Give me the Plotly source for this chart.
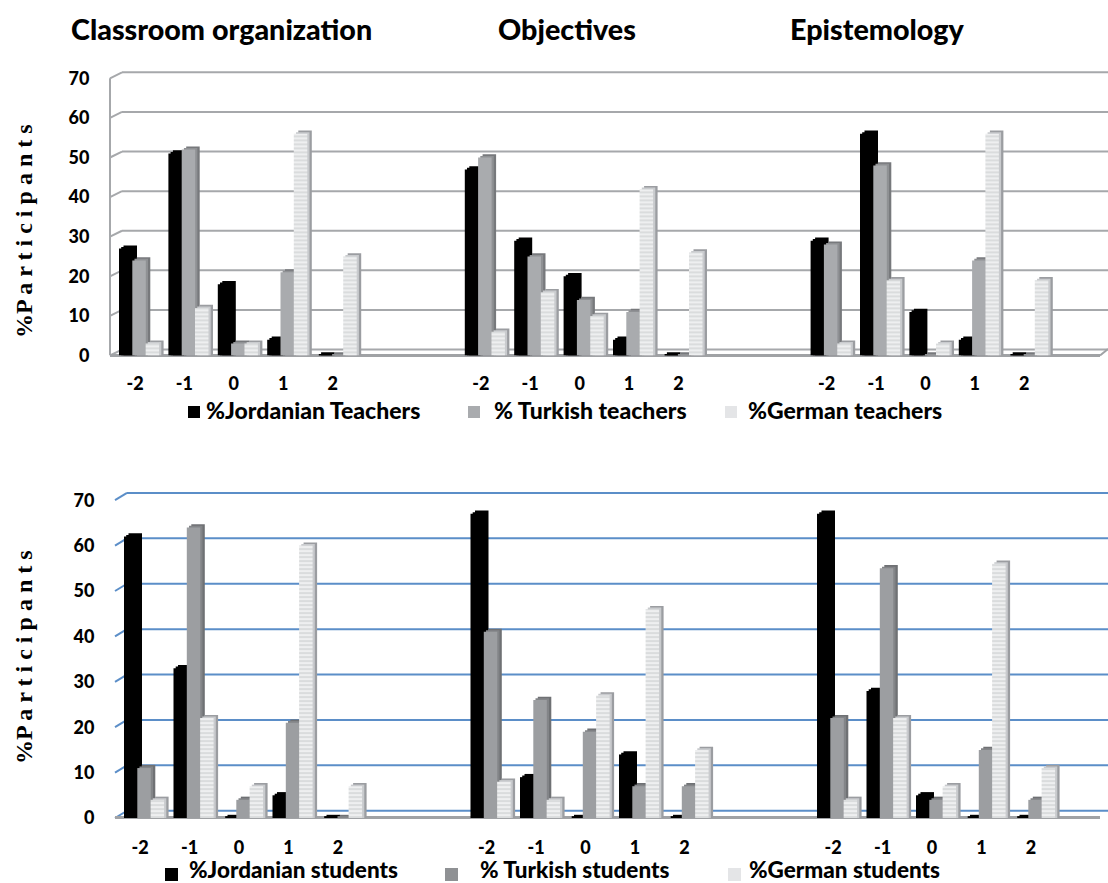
import plotly.graph_objects as go

W, H = 1108, 883
categories = ["-2", "-1", "0", "1", "2"]
group_slots = [0, 7, 14]
y_ticks = [0, 10, 20, 30, 40, 50, 60, 70]

# Teachers: Classroom organization, Objectives, Epistemology
jordan_teachers = [27, 51, 18, 4, 0, 47, 29, 20, 4, 0, 29, 56, 11, 4, 0]
turkish_teachers = [24, 52, 3, 21, 0, 50, 25, 14, 11, 0, 28, 48, 0, 24, 0]
german_teachers = [3, 12, 3, 56, 25, 6, 16, 10, 42, 26, 3, 19, 3, 56, 19]
# Students
jordan_students = [62, 33, 0, 5, 0, 67, 9, 0, 14, 0, 67, 28, 5, 0, 0]
turkish_students = [11, 64, 4, 21, 0, 41, 26, 19, 7, 7, 22, 55, 4, 15, 4]
german_students = [4, 22, 7, 60, 7, 8, 4, 27, 46, 15, 4, 22, 7, 56, 11]

headings = ["Classroom organization", "Objectives", "Epistemology"]
teacher_names = ["%Jordanian Teachers", "% Turkish teachers", "%German teachers"]
student_names = ["%Jordanian students", "% Turkish students", "%German students"]

positions = [s + i for s in group_slots for i in range(len(categories))]
tick_text = categories * len(group_slots)

LATO = "Lato"
HEAVY = 900
fig = go.Figure()


def bar_trace(xa, ya, name, values, offset, width, color, pattern=None):
    marker = dict(color=color, line=dict(width=0))
    if pattern:
        marker["pattern"] = dict(shape="-", bgcolor=pattern[0], fgcolor=pattern[1],
                                 size=4, solidity=0.35)
    fig.add_trace(go.Bar(x=positions, y=values, name=name, offset=offset, width=width,
                         marker=marker, xaxis=xa, yaxis=ya, showlegend=False))


def panel(xa, ya, series, names, side_colors, top_colors, front_colors, patterns, unit, y_per):
    bw = 13.5 / unit
    for k, vals in enumerate(series):
        off = (-16 + 13.3 * k) / unit
        bar_trace(xa, ya, names[k] + " depth", [v + 3.2 / y_per for v in vals],
                  off + 4.5 / unit, bw, side_colors[k])
        bar_trace(xa, ya, names[k] + " top", [v + 1.6 / y_per for v in vals],
                  off + 2.2 / unit, bw, top_colors[k])
        bar_trace(xa, ya, names[k], vals, off, bw, front_colors[k], patterns[k])


def px_x(p):
    return p / W


def px_y(p):
    return 1 - p / H


panel("x", "y", [jordan_teachers, turkish_teachers, german_teachers], teacher_names,
      ["#000000", "#77797c", "#9b9da1"], ["#000000", "#8f9194", "#c9cbce"],
      ["#000000", "#a9abae", "#e9eaec"],
      [None, None, ("#eeeff0", "#b4b6b9")], 49.4, 3.96)
panel("x2", "y2", [jordan_students, turkish_students, german_students], student_names,
      ["#000000", "#6f7174", "#9b9da1"], ["#000000", "#838588", "#c9cbce"],
      ["#000000", "#9c9ea1", "#e9eaec"],
      [None, None, ("#eeeff0", "#b4b6b9")], 49.5, 4.54)


def line(xref, yref, x0, y0, x1, y1, color, width):
    return dict(type="line", xref=xref, yref=yref, x0=x0, y0=y0, x1=x1, y1=y1,
                line=dict(color=color, width=width), layer="below")


shapes = []
# Back-wall gridlines and the slanted wall edges, one per tick value
for t in y_ticks:
    shapes.append(line("paper", "y", px_x(122), t + 1.5, 1, t + 1.5, "#a6a8ab", 2))
    shapes.append(line("paper", "y", px_x(110), t, px_x(122), t + 1.5, "#a6a8ab", 2))
    shapes.append(line("paper", "y2", px_x(127), t + 1.6, 1, t + 1.6, "#5b8ec8", 2))
    shapes.append(line("paper", "y2", px_x(115), t, px_x(127), t + 1.6, "#5b8ec8", 2))
# Front wall edge and floors
shapes.append(line("paper", "y", px_x(110), 0, px_x(110), 70, "#a6a8ab", 2))
shapes.append(line("paper", "paper", px_x(110), px_y(355.5), px_x(1100), px_y(355.5), "#a0a2a5", 3))
shapes.append(line("paper", "paper", px_x(1100), px_y(355.5), px_x(1108), px_y(349), "#a0a2a5", 2))
shapes.append(line("paper", "paper", px_x(115), px_y(817.5), px_x(1100), px_y(817.5), "#a0a2a5", 3))


def swatch(x0, y0, size, color):
    return dict(type="rect", xref="paper", yref="paper", x0=px_x(x0), x1=px_x(x0 + size),
                y0=px_y(y0 + size), y1=px_y(y0), fillcolor=color, line=dict(width=0))


annotations = []


def text(x, y, s, size, family=LATO, anchor="left", angle=0, weight=HEAVY):
    annotations.append(dict(xref="paper", yref="paper", x=px_x(x), y=px_y(y), text=s,
                            showarrow=False, xanchor=anchor, yanchor="middle", textangle=angle,
                            font=dict(family=family, size=size, color="#000000", weight=weight)))


for s, x in zip(headings, [69, 496, 788]):
    text(x, 29, s, 28.7)

for name, sx, tx, col in zip(teacher_names, [188, 468, 725], [204, 492, 746],
                             ["#000000", "#a9abae", "#e4e5e7"]):
    shapes.append(swatch(sx, 406, 12, col))
    text(tx, 410, name, 23)
for name, sx, tx, col in zip(student_names, [165, 445, 728], [187, 478, 747],
                             ["#000000", "#8f9194", "#e4e5e7"]):
    shapes.append(swatch(sx, 868, 13, col))
    text(tx, 869.5, name, 22.5)

spaced = "%P a r t i c i p a n t s"
text(24, 231, spaced, 24, "Liberation Serif", "center", -90, "bold")
text(24, 657, spaced, 24, "Liberation Serif", "center", -90, "bold")

tick_font = dict(family=LATO, size=18, color="#000000", weight=HEAVY)


def xaxis(left_px, first_px, unit, anchor, standoff):
    return dict(domain=[px_x(left_px), 1], range=[(left_px - first_px) / unit, (W - first_px) / unit],
                tickmode="array", tickvals=positions, ticktext=tick_text, anchor=anchor,
                showgrid=False, zeroline=False, showline=False, ticks="outside", ticklen=standoff,
                tickcolor="rgba(0,0,0,0)", tickfont=tick_font, automargin=False)


def yaxis(zero_px, y_per, anchor, standoff):
    top = zero_px - 72 * y_per
    return dict(domain=[px_y(zero_px), px_y(top)], range=[0, 72], tickmode="array", tickvals=y_ticks,
                showgrid=False, zeroline=False, showline=False, anchor=anchor, ticks="outside",
                ticklen=standoff, tickcolor="rgba(0,0,0,0)", tickfont=tick_font, automargin=False)


fig.update_layout(
    width=W, height=H, autosize=False, margin=dict(l=0, r=0, t=0, b=0),
    paper_bgcolor="#ffffff", plot_bgcolor="rgba(0,0,0,0)", barmode="overlay", showlegend=False,
    xaxis=xaxis(110, 135, 49.4, "y", 12), yaxis=yaxis(355.5, 3.96, "x", 16),
    xaxis2=xaxis(115, 140, 49.5, "y2", 13), yaxis2=yaxis(818, 4.54, "x2", 16),
    shapes=shapes, annotations=annotations,
)
fig.write_html("out.html", config={"displayModeBar": False},
               post_script="document.body.style.margin='0';")
